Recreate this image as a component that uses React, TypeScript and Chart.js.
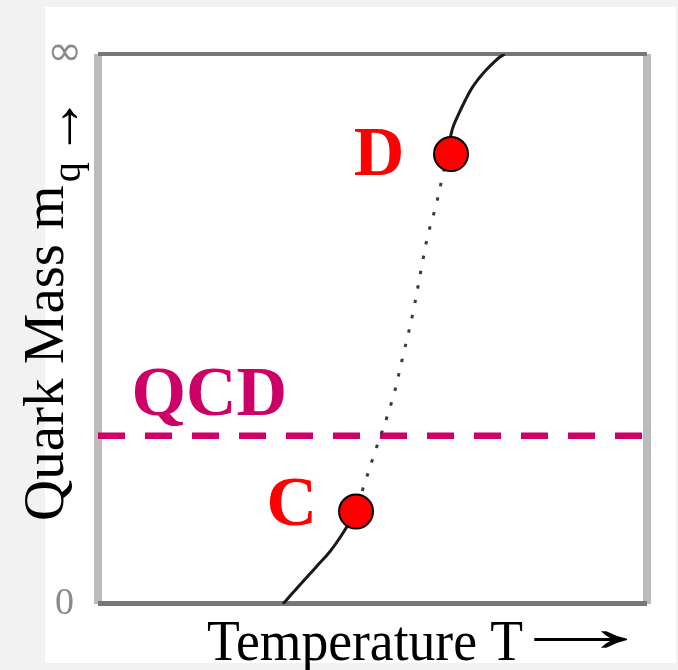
import React, { useEffect, useRef } from 'react';
import { Chart, registerables } from 'chart.js';

Chart.register(...registerables);

// Phase-boundary curve: temperature (x, 0..100) vs quark mass (y, 0..100)
const curveT = [33.7, 36.8, 39.7, 42.3, 44.3, 45.9, 47.2, 48.3, 50.1, 53.6, 55.6, 57.4, 59.0, 60.1, 61.6, 62.7, 63.6, 64.5, 65.6, 66.9, 68.1, 69.4, 70.7, 72.0, 73.2, 74.1];
const curveM = [0, 3.5, 6.7, 9.6, 12.4, 15.1, 18.0, 21.1, 26.6, 37.1, 45.3, 53.1, 61.6, 67.1, 72.6, 77.5, 81.6, 86.2, 88.9, 91.6, 93.8, 95.6, 97.1, 98.4, 99.45, 100];

// Critical points C and D
const pointNames = ['C', 'D'];
const pointT = [47.0, 64.3];
const pointM = [16.8, 81.8];

// Physical QCD quark-mass level
const qcdLevel = 30.6;

// Text annotations (data coordinates)
const labelText = ['QCD', 'C', 'D'];
const labelT = [6.1, 30.7, 46.6];
const labelM = [34.4, 14.4, 78.0];

// Y-axis tick labels
const yTickValues = [0, 100];
const yTickLabels = ['0', '\u221E'];

const xTitle = 'Temperature T';
const yTitle = 'Quark Mass m';
const yTitleSub = 'q';
const arrow = '\u2192';

const SERIF = '"Liberation Serif", "Times New Roman", serif';

// draw an arrow glyph so that its ink spans `len` px starting at x0, centred vertically at yc
function drawArrow(ctx: CanvasRenderingContext2D, x0: number, yc: number, len: number, size: number) {
  ctx.save();
  ctx.font = `${size}px ${SERIF}`;
  const m = ctx.measureText(arrow);
  const ink = m.actualBoundingBoxLeft + m.actualBoundingBoxRight;
  const mid = (m.actualBoundingBoxAscent - m.actualBoundingBoxDescent) / 2;
  ctx.translate(x0, yc + mid);
  ctx.scale(len / ink, 1);
  ctx.fillText(arrow, m.actualBoundingBoxLeft, 0);
  ctx.restore();
}

const framePlugin = {
  id: 'framePlugin',
  beforeDraw(chart: any) {
    const { ctx, width, height } = chart;
    ctx.save();
    ctx.fillStyle = '#f2f2f2';
    ctx.fillRect(0, 0, width, height);
    ctx.fillStyle = '#ffffff';
    ctx.fillRect(45, 7, width - 47, 656);
    ctx.restore();
  },
  beforeDatasetsDraw(chart: any) {
    const { ctx, chartArea: a } = chart;
    ctx.save();
    ctx.fillStyle = '#bbbbbb';
    ctx.fillRect(a.left - 4, a.top, 8, a.bottom - a.top);
    ctx.fillRect(a.right - 4, a.top, 8, a.bottom - a.top);
    ctx.fillStyle = '#777777';
    ctx.fillRect(a.left, a.top - 2, a.right - a.left, 4);
    ctx.fillRect(a.left, a.bottom - 3, a.right - a.left, 5);
    ctx.restore();
  },
  afterDraw(chart: any) {
    const { ctx, chartArea: a, scales } = chart;
    ctx.save();
    ctx.textAlign = 'left';
    ctx.textBaseline = 'alphabetic';

    // annotations
    const colors = ['#cc0066', '#ff0000', '#ff0000'];
    ctx.font = `bold 70px ${SERIF}`;
    labelText.forEach((t, i) => {
      ctx.fillStyle = colors[i];
      ctx.fillText(t, scales.x.getPixelForValue(labelT[i]), scales.y.getPixelForValue(labelM[i]));
    });

    ctx.fillStyle = '#000000';
    // x title
    ctx.font = `57px ${SERIF}`;
    ctx.save();
    ctx.translate(a.left + 109, a.bottom + 56);
    ctx.scale(0.94, 1);
    ctx.fillText(xTitle, 0, 0);
    ctx.restore();
    drawArrow(ctx, a.left + 436, a.bottom + 35, 94, 70);

    // y title (rotated)
    ctx.save();
    ctx.translate(a.left - 35, 521);
    ctx.rotate(-Math.PI / 2);
    ctx.font = `57px ${SERIF}`;
    ctx.fillText(yTitle, 0, 0);
    const w = ctx.measureText(yTitle).width;
    ctx.font = `40px ${SERIF}`;
    ctx.fillText(yTitleSub, w + 3, 17);
    drawArrow(ctx, 376, 6.5, 37, 62);
    ctx.restore();

    ctx.restore();
  },
};

export default function App() {
  const ref = useRef<HTMLCanvasElement | null>(null);

  useEffect(() => {
    if (!ref.current) return;
    const cLevel = pointM[0];
    const dLevel = pointM[1];
    const dotted = (c: any) => c.p0.parsed.y >= cLevel && c.p1.parsed.y <= dLevel;

    const chart = new Chart(ref.current, {
      type: 'line',
      data: {
        datasets: [
          {
            label: 'points',
            data: pointT.map((t, i) => ({ x: t, y: pointM[i], name: pointNames[i] })),
            showLine: false,
            pointRadius: 17,
            pointBackgroundColor: '#ff0000',
            pointBorderColor: '#000000',
            pointBorderWidth: 2,
            order: 0,
          },
          {
            label: 'boundary',
            data: curveT.map((t, i) => ({ x: t, y: curveM[i] })),
            borderColor: '#1a1a1a',
            borderWidth: 3,
            pointRadius: 0,
            tension: 0.4,
            segment: {
              borderDash: (c: any) => (dotted(c) ? [3.5, 11.5] : undefined),
              borderColor: (c: any) => (dotted(c) ? '#3a3a3a' : undefined),
            },
            order: 1,
          },
          {
            label: 'QCD',
            data: [
              { x: 0, y: qcdLevel },
              { x: 100, y: qcdLevel },
            ],
            borderColor: '#cc0066',
            borderWidth: 6.5,
            borderDash: [27, 20],
            pointRadius: 0,
            order: 2,
          },
        ],
      },
      options: {
        responsive: false,
        animation: false,
        layout: { padding: { top: 54, right: 31, bottom: 66, left: 0 } },
        plugins: { legend: { display: false }, tooltip: { enabled: false } },
        scales: {
          x: { type: 'linear', min: 0, max: 100, display: false },
          y: {
            type: 'linear',
            min: 0,
            max: 100,
            grid: { display: false, drawTicks: false },
            border: { display: false },
            afterBuildTicks: (s: any) => {
              s.ticks = yTickValues.map((v) => ({ value: v }));
            },
            afterFit: (s: any) => {
              s.width = 98;
            },
            ticks: {
              padding: 16,
              crossAlign: 'center',
              color: '#8a8a8a',
              font: (c: any) =>
                c.tick && c.tick.value === 100
                  ? { family: 'DejaVu Sans', size: 42 }
                  : { family: 'Liberation Serif', size: 38 },
              callback: (v: any) => yTickLabels[yTickValues.indexOf(Number(v))],
            },
          },
        },
      },
      plugins: [framePlugin],
    } as any);
    return () => chart.destroy();
  }, []);

  return (
    <div style={{ position: 'fixed', left: 0, top: 0, width: 678, height: 670 }}>
      <canvas ref={ref} width={678} height={670} />
    </div>
  );
}
